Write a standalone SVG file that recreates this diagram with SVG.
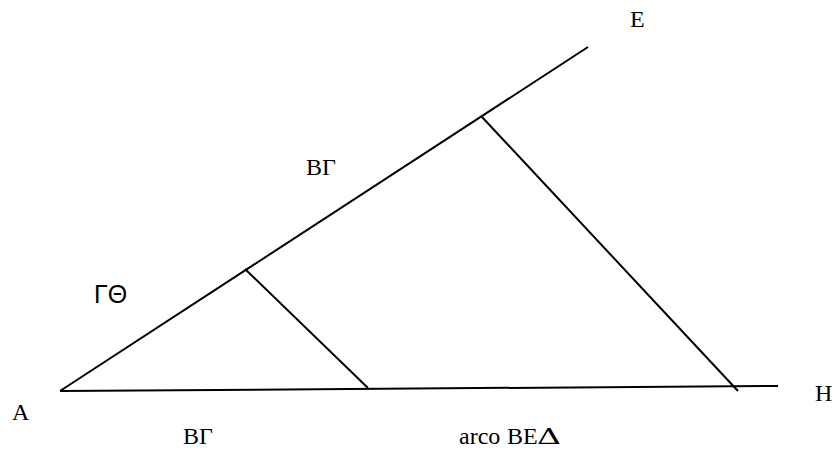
<svg xmlns="http://www.w3.org/2000/svg" width="835" height="450" viewBox="0 0 835 450">
<style>
.ln{stroke:#000;stroke-width:2;fill:none}
.t{font-family:"Liberation Serif","Times New Roman",serif;font-size:24px;fill:#000}
.s{font-family:"Liberation Sans",Arial,sans-serif;font-size:25px;fill:#000}
</style>
<rect width="835" height="450" fill="#fff"/>
<g id="connectors">
<line class="ln" x1="60" y1="391" x2="588" y2="47"/>
<line class="ln" x1="60" y1="391" x2="778" y2="386"/>
<line class="ln" x1="245" y1="269" x2="368" y2="388"/>
<line class="ln" x1="482" y1="117" x2="738" y2="391"/>
</g>
<g id="labels">
<text class="t" x="630" y="27">E</text>
<text class="t" x="306" y="175">BΓ</text>
<text class="s" x="94" y="303">ΓΘ</text>
<text class="t" x="12" y="420">A</text>
<text class="t" x="815" y="401">H</text>
<text class="t" x="183" y="444">BΓ</text>
<text class="t" x="459" y="444">arco <tspan x="507">BE</tspan><tspan x="537" textLength="24" lengthAdjust="spacingAndGlyphs" style="font-family:'DejaVu Serif','Liberation Serif',serif;font-size:22px">Δ</tspan></text>
</g>
</svg>
